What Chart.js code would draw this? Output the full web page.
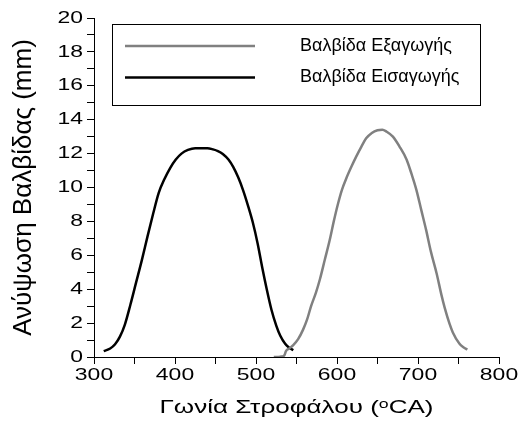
<!DOCTYPE html>
<html>
<head>
<meta charset="utf-8">
<script src="https://cdn.jsdelivr.net/npm/chart.js@4/dist/chart.umd.min.js"></script>
<style>
  html, body { margin: 0; padding: 0; background: #fff; }
  canvas { display: block; }
</style>
</head>
<body>
<canvas id="c" width="519" height="426"></canvas>
<script>
// Βαλβίδα Εξαγωγής (γκρι)
var exhaustAngle = [522, 530, 535, 537, 541, 546, 552, 558, 563, 568, 574, 579, 585, 591, 596, 601, 606, 612, 618, 624, 630, 636, 643, 650, 656, 661, 669, 677, 686, 692, 698, 704, 710, 716, 723, 729, 733, 739, 743, 751, 756, 761];
var exhaustLift  = [0.0, 0.02, 0.1, 0.35, 0.5, 0.7, 1.05, 1.6, 2.2, 3.0, 3.8, 4.6, 5.75, 6.9, 8.0, 9.0, 9.85, 10.6, 11.25, 11.85, 12.4, 12.9, 13.22, 13.38, 13.41, 13.3, 13.0, 12.43, 11.64, 10.8, 9.86, 8.68, 7.5, 6.2, 4.93, 3.65, 2.9, 1.95, 1.45, 0.79, 0.58, 0.44];

// Βαλβίδα Εισαγωγής (μαύρη)
var intakeAngle = [312, 320, 326, 332, 338, 345, 352, 359, 366, 373, 380, 387, 394, 401, 408, 416, 425, 440, 447, 453, 459, 466, 472, 478, 484, 490, 496, 502, 508, 513, 519, 525, 530, 536, 541, 546];
var intakeLift  = [0.35, 0.5, 0.75, 1.2, 1.9, 3.1, 4.4, 5.7, 7.1, 8.45, 9.7, 10.5, 11.15, 11.65, 12.0, 12.22, 12.32, 12.32, 12.25, 12.15, 11.98, 11.65, 11.2, 10.6, 9.85, 8.95, 7.95, 6.7, 5.2, 4.05, 2.8, 1.85, 1.25, 0.78, 0.55, 0.4];

var xTicks = [300, 400, 500, 600, 700, 800];
var yTicks = [0, 2, 4, 6, 8, 10, 12, 14, 16, 18, 20];

function toPoints(xs, ys) {
    return xs.map(function (x, i) { return { x: x, y: ys[i] }; });
}

var FONT = 'Liberation Sans, Arial, sans-serif';

// οριζόντιο τέντωμα κειμένου ανά μέγεθος γραμματοσειράς (ticks / τίτλος x)
var textStretch = { 17: 1.35, 19: 1.37 };

var stretchText = {
    id: 'stretchText',
    beforeDraw: function (chart) {
        var ctx = chart.ctx;
        if (ctx._plainFill) return;
        var plain = ctx.fillText;
        ctx._plainFill = plain;
        ctx.fillText = function (text, x, y, maxW) {
            var m = /(\d+)px/.exec(this.font);
            var k = m ? (textStretch[m[1]] || 1) : 1;
            if (k === 1) return maxW === undefined ? plain.call(this, text, x, y) : plain.call(this, text, x, y, maxW);
            var t = this.getTransform();
            var p = t.transformPoint(new DOMPoint(x, y));
            this.save();
            this.setTransform(new DOMMatrix().translate(p.x, p.y).scale(k, 1).translate(-p.x, -p.y).multiply(t));
            plain.call(this, text, x, y);
            this.restore();
        };
    }
};

/* υπόμνημα μέσα στο διάγραμμα */
var boxLegend = {
    id: 'boxLegend',
    afterDraw: function (chart) {
        var ctx = chart.ctx;
        var sets = chart.data.datasets;
        ctx.save();
        ctx.strokeStyle = '#000';
        ctx.lineWidth = 1;
        ctx.fillStyle = '#fff';
        ctx.fillRect(112.5, 24.5, 368, 81);
        ctx.strokeRect(112.5, 24.5, 368, 81);
        var rows = [46, 77.5];
        ctx.font = '18px ' + FONT;
        ctx.textBaseline = 'middle';
        sets.forEach(function (ds, i) {
            ctx.strokeStyle = ds.borderColor;
            ctx.lineWidth = ds.borderWidth;
            ctx.beginPath();
            ctx.moveTo(125, rows[i]);
            ctx.lineTo(255, rows[i]);
            ctx.stroke();
            ctx.fillStyle = '#000';
            ctx.fillText(ds.label, 300, rows[i]);
        });
        ctx.restore();
    }
};

new Chart(document.getElementById('c'), {
    type: 'line',
    data: {
        datasets: [
            {
                label: 'Βαλβίδα Εξαγωγής',
                data: toPoints(exhaustAngle, exhaustLift),
                borderColor: '#808080',
                borderWidth: 2.5,
                pointRadius: 0,
                cubicInterpolationMode: 'monotone'
            },
            {
                label: 'Βαλβίδα Εισαγωγής',
                data: toPoints(intakeAngle, intakeLift),
                borderColor: '#000000',
                borderWidth: 2.5,
                pointRadius: 0,
                cubicInterpolationMode: 'monotone'
            }
        ]
    },
    options: {
        responsive: false,
        animation: false,
        devicePixelRatio: 1,
        layout: { padding: { left: 0, right: 20, top: 18, bottom: 0 } },
        plugins: { legend: { display: false }, tooltip: { enabled: false } },
        scales: {
            x: {
                type: 'linear',
                min: 300, max: 800,
                afterFit: function (s) { s.height = 69; },
                border: { color: '#000', width: 1 },
                grid: { drawOnChartArea: false, color: '#000', tickLength: 7, tickWidth: 1 },
                afterBuildTicks: function (s) {
                    var t = [];
                    for (var v = 300; v <= 800; v += 50) t.push({ value: v });
                    s.ticks = t;
                },
                ticks: {
                    color: '#000',
                    font: { family: FONT, size: 17 },
                    padding: 1,
                    maxRotation: 0,
                    autoSkip: false,
                    callback: function (v) { return xTicks.indexOf(v) >= 0 ? String(v) : ''; }
                },
                title: {
                    display: true,
                    text: 'Γωνία Στροφάλου (ᵒCA)',
                    color: '#000',
                    font: { family: FONT, size: 19 },
                    padding: { top: 0, bottom: 7 }
                }
            },
            y: {
                min: 0, max: 20,
                afterFit: function (s) { s.width = 94; },
                border: { color: '#000', width: 1 },
                grid: { drawOnChartArea: false, color: '#000', tickLength: 7, tickWidth: 1 },
                ticks: {
                    stepSize: 1,
                    color: '#000',
                    font: { family: FONT, size: 17 },
                    padding: 4,
                    autoSkip: false,
                    callback: function (v) { return yTicks.indexOf(v) >= 0 ? String(v) : ''; }
                },
                title: {
                    display: true,
                    text: 'Ανύψωση Βαλβίδας (mm)',
                    color: '#000',
                    font: { family: FONT, size: 26 },
                    padding: { top: 8, bottom: 0 }
                }
            }
        }
    },
    plugins: [stretchText, boxLegend]
});
</script>
</body>
</html>
